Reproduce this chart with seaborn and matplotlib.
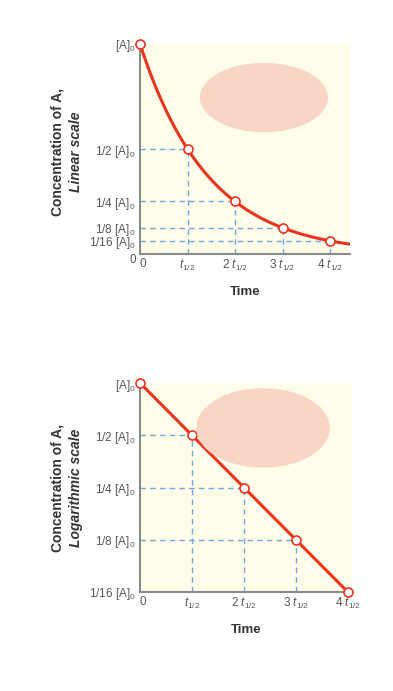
import matplotlib
matplotlib.use("Agg")
import matplotlib.pyplot as plt
import seaborn as sns
import pandas as pd
import numpy as np
from matplotlib.patches import Ellipse

# data
half_lives = [0, 1, 2, 3, 4]
concentration = [1, 1/2, 1/4, 1/8, 1/16]
x_labels = ["0", r"$t_{1/2}$", r"$2\ t_{1/2}$", r"$3\ t_{1/2}$", r"$4\ t_{1/2}$"]
y_labels_lin = ["0", "1/16 [A]$_0$", "1/8 [A]$_0$", "1/4 [A]$_0$", "1/2 [A]$_0$", "[A]$_0$"]
y_labels_log = ["1/16 [A]$_0$", "1/8 [A]$_0$", "1/4 [A]$_0$", "1/2 [A]$_0$", "[A]$_0$"]

# smooth decay curve for the linear panel
curve_t = np.linspace(0, 4.45, 200)
curve_c = 0.5 ** curve_t

pts = pd.DataFrame({"t": half_lives, "c": concentration})
curve = pd.DataFrame({"t": curve_t, "c": curve_c})

sns.set_style("white")
plt.rcParams["font.family"] = ["Liberation Sans", "DejaVu Sans"]
plt.rcParams["mathtext.fontset"] = "custom"
plt.rcParams["mathtext.rm"] = "Liberation Sans"
plt.rcParams["mathtext.it"] = "Liberation Sans:italic"

red = "#e8341f"
blue = "#6fa8dc"
bg = "#fffcea"
blob = "#f8d5c4"
grey = "#555555"

fig = plt.figure(figsize=(3.93, 6.91), dpi=100)
ax1 = fig.add_axes([140/393, 1 - 254/691, 210/393, 210/691])
ax2 = fig.add_axes([140/393, 1 - 592/691, 212/393, 209/691])


def guides(ax, xs, ys):
    for x, y in zip(xs, ys):
        ax.plot([0, x], [y, y], ls=(0, (4, 3)), color=blue, lw=1, zorder=2)
        ax.plot([x, x], [ax.get_ylim()[0], y], ls=(0, (4, 3)), color=blue, lw=1, zorder=2)


for ax in (ax1, ax2):
    ax.set_facecolor(bg)
    for s in ["top", "right"]:
        ax.spines[s].set_visible(False)
    for s in ["left", "bottom"]:
        ax.spines[s].set_color("#8a8a8a")
        ax.spines[s].set_linewidth(1.5)
    ax.tick_params(length=0, pad=3, labelsize=8.5, colors=grey)

# linear panel
ax1.set_xlim(0, 4.42)
ax1.set_ylim(0, 1.0)
sns.lineplot(data=curve, x="t", y="c", ax=ax1, color=red, lw=2.2, zorder=3)
guides(ax1, half_lives[1:], concentration[1:])
sns.scatterplot(data=pts, x="t", y="c", ax=ax1, s=42, facecolor="white",
                edgecolor=red, linewidth=1.2, zorder=4, clip_on=False)
ax1.set_xticks(half_lives)
ax1.set_xticklabels(x_labels)
ax1.get_xticklabels()[0].set_horizontalalignment("left")
ax1.set_yticks([0] + concentration[::-1])
ax1.set_yticklabels(y_labels_lin)
ax1.get_yticklabels()[0].set_verticalalignment("top")
ax1.set_xlabel("Time", fontsize=9.5, fontweight="bold", color="#333333", labelpad=9)
ax1.set_ylabel("")
fig.text(58/393, 1 - 152/691, "Concentration of A,", rotation=90, ha="center", va="center",
         fontsize=10, fontweight="bold", color="#333333")
fig.text(76/393, 1 - 152/691, "Linear scale", rotation=90, ha="center", va="center",
         fontsize=10, fontweight="bold", fontstyle="italic", color="#333333")
ax1.add_patch(Ellipse((0.59, 0.745), 0.61, 0.33, transform=ax1.transAxes,
                      color=blob, zorder=5, lw=0))

# log panel
ax2.set_yscale("log", base=2)
ax2.set_xlim(0, 4.08)
ax2.set_ylim(1/16, 1)
sns.lineplot(data=pts, x="t", y="c", ax=ax2, color=red, lw=2.2, zorder=3)
guides(ax2, half_lives[1:4], concentration[1:4])
sns.scatterplot(data=pts, x="t", y="c", ax=ax2, s=42, facecolor="white",
                edgecolor=red, linewidth=1.2, zorder=4, clip_on=False)
ax2.set_xticks(half_lives)
ax2.set_xticklabels(x_labels)
ax2.get_xticklabels()[0].set_horizontalalignment("left")
ax2.minorticks_off()
ax2.set_yticks(concentration[::-1])
ax2.set_yticklabels(y_labels_log)
ax2.set_xlabel("Time", fontsize=9.5, fontweight="bold", color="#333333", labelpad=9)
ax2.set_ylabel("")
fig.text(58/393, 1 - 488/691, "Concentration of A,", rotation=90, ha="center", va="center",
         fontsize=10, fontweight="bold", color="#333333")
fig.text(76/393, 1 - 488/691, "Logarithmic scale", rotation=90, ha="center", va="center",
         fontsize=10, fontweight="bold", fontstyle="italic", color="#333333")
ax2.add_patch(Ellipse((0.58, 0.785), 0.63, 0.38, transform=ax2.transAxes,
                      color=blob, zorder=5, lw=0))

fig.savefig("out.png", dpi=100, facecolor="white")
